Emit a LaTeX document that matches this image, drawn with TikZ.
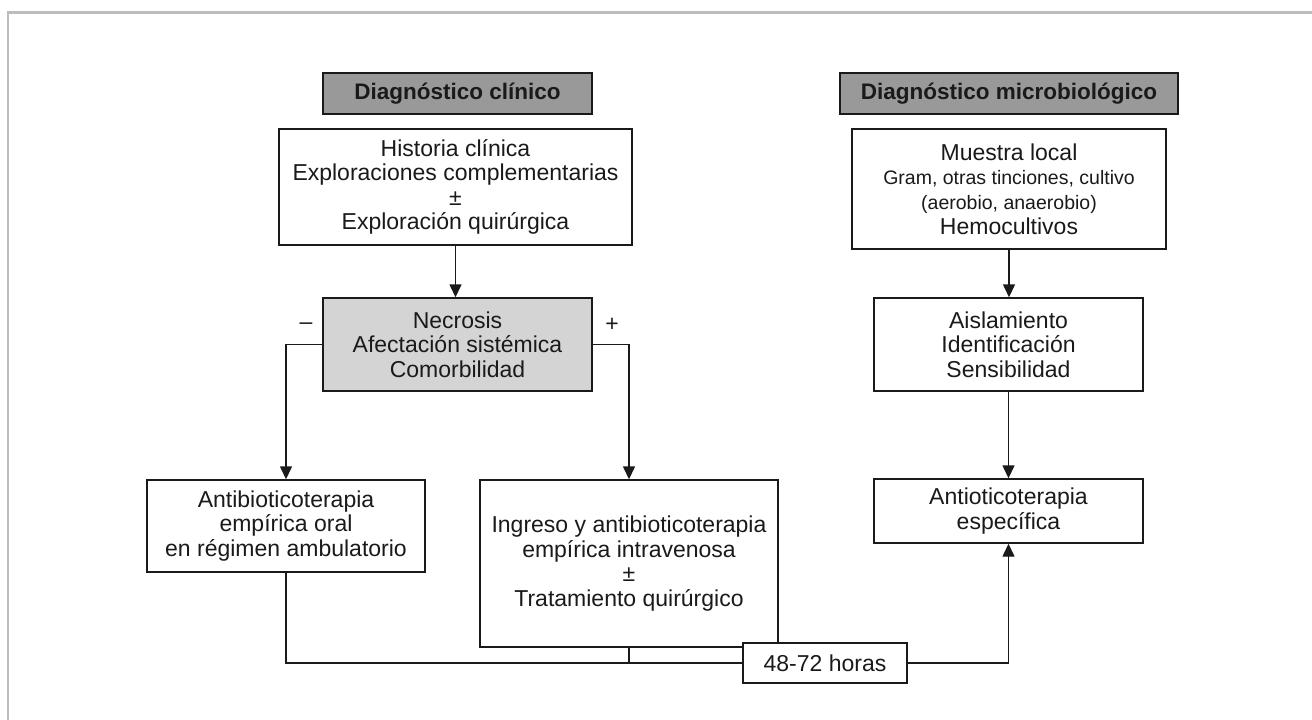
\documentclass[tikz,border=0pt]{standalone}
\usepackage{fontspec}
\setmainfont{Liberation Sans}
\usetikzlibrary{arrows.meta}
\definecolor{ink}{HTML}{1A1A1A}
\definecolor{hdrfill}{HTML}{999999}
\definecolor{necfill}{HTML}{D4D4D4}
\definecolor{framegray}{HTML}{BDBDBD}
\tikzset{
  box/.style={draw=ink, line width=1.4pt, fill=white, inner sep=0pt, align=center,
    text=ink, font=\fontsize{23}{24.6}\selectfont},
  hdr/.style={box, fill=hdrfill, font=\bfseries\fontsize{22.5}{25}\selectfont},
  conn/.style={draw=ink, line width=1.4pt},
  arr/.style={conn, -{Triangle[length=13pt,width=12pt]}},
  sign/.style={text=ink, font=\fontsize{23}{25}\selectfont, inner sep=0pt}
}
\begin{document}
\begin{tikzpicture}[x=1pt,y=-1pt]
\useasboundingbox (0,0) rectangle (1312,720);
\fill[white] (0,0) rectangle (1312,720);
\draw[framegray, line width=2.5pt] (8,722) -- (8,12.5) -- (1314,12.5);

\node[hdr, minimum width=269, minimum height=41] (h1) at (457.5,93.5) {Diagnóstico clínico};
\node[hdr, minimum width=338, minimum height=41] (h2) at (1009,93.5) {Diagnóstico microbiológico};

\node[box, minimum width=353, minimum height=116] (hist) at (455.5,187)
  {Historia clínica\\Exploraciones complementarias\\±\\Exploración quirúrgica};
\node[box, minimum width=314, minimum height=120] (mues) at (1009,189)
  {Muestra local\\{\fontsize{19.5}{22}\selectfont Gram, otras tinciones, cultivo}\\{\fontsize{19.5}{22}\selectfont (aerobio, anaerobio)}\\Hemocultivos};

\node[box, fill=necfill, minimum width=269, minimum height=93] (nec) at (457.5,344.5)
  {Necrosis\\Afectación sistémica\\Comorbilidad};
\node[box, minimum width=269, minimum height=93] (ais) at (1008.5,344.5)
  {Aislamiento\\Identificación\\Sensibilidad};

\node[box, minimum width=278, minimum height=92] (antib) at (286,526)
  {Antibioticoterapia\\empírica oral\\en régimen ambulatorio};
\node[box, minimum width=298, minimum height=167] (ingr) at (629,563.5)
  {Ingreso y antibioticoterapia\\empírica intravenosa\\±\\Tratamiento quirúrgico};
\node[box, minimum width=269, minimum height=64] (antio) at (1008.5,511)
  {Antioticoterapia\\específica};

\node[box, minimum width=164, minimum height=40] (horas) at (825,663) {48-72 horas};

\node[sign] (lminus) at (306,326) {–};
\node[sign] (lplus) at (612,325) {+};

\draw[arr] (hist.south) -- (hist.south |- nec.north);
\draw[arr] (nec.west) -| (antib.north);
\draw[arr] (nec.east) -| (ingr.north);
\draw[arr] (mues.south) -- (mues.south |- ais.north);
\draw[arr] (ais.south) -- (antio.north);
\draw[conn] (antib.south) |- (horas.west);
\draw[conn] (ingr.south) -- (ingr.south |- horas.west);
\draw[arr] (horas.east) -| (antio.south);
\end{tikzpicture}
\end{document}
